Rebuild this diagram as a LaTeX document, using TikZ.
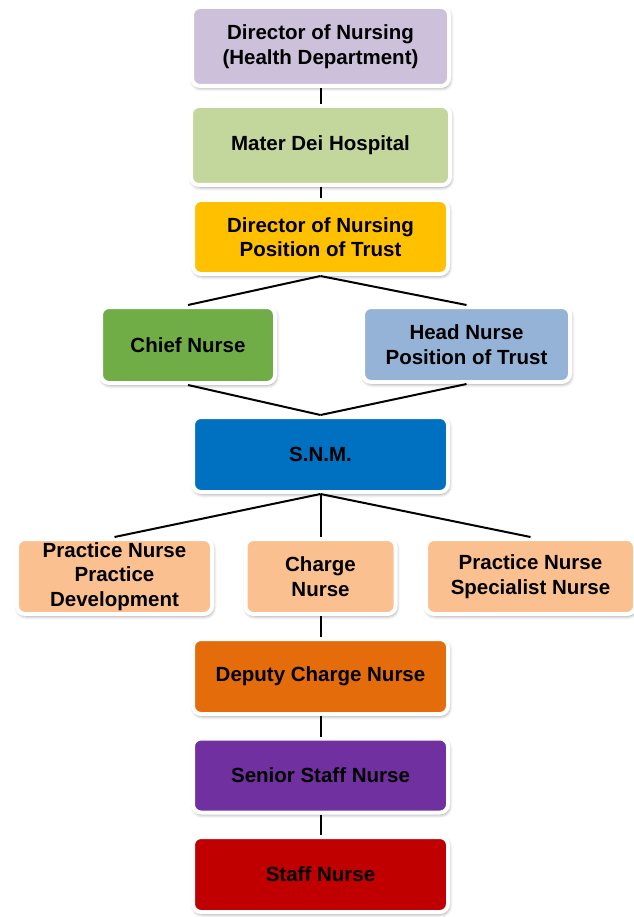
\documentclass[tikz,border=0pt]{standalone}
\usepackage{fontspec}
\setmainfont{Liberation Sans}
\usepackage{tikz}
\usetikzlibrary{shadows.blur}

\definecolor{lilac}{HTML}{CCC0DA}
\definecolor{sage}{HTML}{C3D69B}
\definecolor{gold}{HTML}{FFC000}
\definecolor{leaf}{HTML}{70AD47}
\definecolor{sky}{HTML}{95B3D7}
\definecolor{ocean}{HTML}{0070C0}
\definecolor{peach}{HTML}{FAC090}
\definecolor{rust}{HTML}{E46C0A}
\definecolor{plum}{HTML}{7030A0}
\definecolor{crimson}{HTML}{C00000}

\begin{document}
\begin{tikzpicture}[x=1pt,y=1pt,node distance=99pt,
  org node/.style={rectangle,rounded corners=8pt,draw=white,line width=4pt,
    blur shadow={shadow xshift=1pt,shadow yshift=-2pt,shadow opacity=45,shadow blur radius=3.5pt},
    align=center,inner sep=0pt,minimum height=75pt,
    font=\bfseries\fontsize{20.5}{24.5}\selectfont}]

  \useasboundingbox (0,0) rectangle (633,-917);

  \node[org node,fill=lilac,minimum width=257pt,minimum height=79pt] (1) at (320.5,-46.5) {Director of Nursing\\(Health Department)};
  \node[org node,fill=sage,minimum width=259pt,minimum height=79pt] (2) at (320.5,-145.5) {Mater Dei Hospital};
  \node[org node,fill=gold,minimum width=255pt,minimum height=74pt] (3) at (320.5,-237) {Director of Nursing\\Position of Trust};
  \node[org node,fill=leaf,minimum width=174pt,minimum height=76pt] (4) at (188,-345) {Chief Nurse};
  \node[org node,fill=sky,minimum width=207pt,minimum height=75pt] (5) at (466.5,-344.5) {Head Nurse\\Position of Trust};
  \node[org node,fill=ocean,minimum width=255pt] (6) at (320.5,-454.5) {S.N.M.};
  \node[org node,fill=peach,minimum width=195pt] (7) at (114.5,-576.5) {Practice Nurse\\Practice\\Development};
  \node[org node,fill=peach,minimum width=150pt] (8) at (320.5,-576.5) {Charge\\Nurse};
  \node[org node,fill=peach,minimum width=209pt] (9) at (530.5,-576.5) {Practice Nurse\\Specialist Nurse};
  \node[org node,fill=rust,minimum width=255pt] (10) at (320.5,-676.5) {Deputy Charge Nurse};
  \node[org node,fill=plum,minimum width=255pt,minimum height=74pt] (11) [below of=10] {Senior Staff Nurse};
  \node[org node,fill=crimson,minimum width=255pt] (12) [below of=11] {Staff Nurse};

  \path[draw,line width=2pt]
    (1) edge (2)
    (2) edge (3)
    (3.south) edge (4.north)
              edge (5.north)
    (4.south) edge (6.north)
    (5.south) edge (6.north)
    (6.south) edge (7.north)
              edge (8.north)
              edge (9.north)
    (8) edge (10)
    (10) edge (11)
    (11) edge (12);

\end{tikzpicture}
\end{document}
